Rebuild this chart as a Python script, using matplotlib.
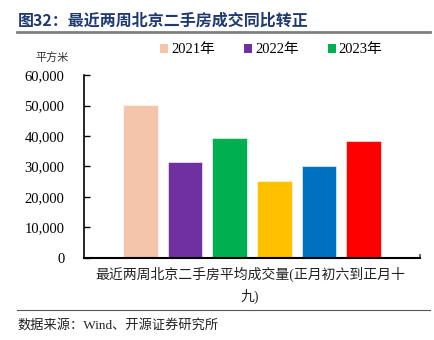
import matplotlib.pyplot as plt
from matplotlib.patches import Patch
from matplotlib.lines import Line2D
from matplotlib.ticker import FuncFormatter

plt.rcParams['font.family'] = ['Liberation Serif', 'Noto Sans CJK SC', 'DejaVu Sans']

# data
years = ['2021年', '2022年', '2023年']
values = [50100, 31600, 39250, 25100, 30200, 38250]
colors = ['#F5C5AB', '#7030A0', '#00B050', '#FFC000', '#0070C0', '#FF0000']
yticks = [0, 10000, 20000, 30000, 40000, 50000, 60000]
title = '图32：最近两周北京二手房成交同比转正'
xlabel = '最近两周北京二手房平均成交量(正月初六到正月十\n九)'
unit = '平方米'
source = '数据来源：Wind、开源证券研究所'

serif_cjk = ['Liberation Serif', 'Noto Sans CJK SC', 'DejaVu Sans']

fig = plt.figure(figsize=(4.35, 3.4), dpi=100)
ax = fig.add_axes([0.193, 0.242, 0.7725, 0.537])

xs = list(range(len(values)))
ax.bar(xs, values, width=0.78, color=colors, edgecolor='white', linewidth=0.4)
ax.set_xlim(-1.26, 6.26)
ax.set_ylim(0, 60000)
ax.set_yticks(yticks)
ax.yaxis.set_major_formatter(FuncFormatter(lambda v, p: f'{int(v):,}'))
ax.tick_params(axis='y', direction='in', length=4, width=1, labelsize=10.5, pad=14)
ax.set_xticks([6.26])
ax.set_xticklabels([''])
ax.tick_params(axis='x', direction='in', length=3, width=1.5, color='#707070')
for s in ['top', 'right']:
    ax.spines[s].set_visible(False)
ax.spines['left'].set_linewidth(1.2)
ax.spines['bottom'].set_linewidth(1.5)

fig.text(0.575, 0.215, xlabel, ha='center', va='top', fontsize=10,
         family=serif_cjk, color='#222222', linespacing=1.55)
fig.text(0.082, 0.83, unit, ha='left', va='center', fontsize=8,
         family=['Noto Sans CJK SC'], color='#333333')

handles = [Patch(facecolor=c, edgecolor='none') for c in colors[:3]]
fig.legend(handles, years, loc='center', bbox_to_anchor=(0.624, 0.853), ncol=3,
           frameon=False, handlelength=0.55, handleheight=0.55,
           handletextpad=0.2, columnspacing=2.0,
           prop={'family': serif_cjk, 'size': 10.5})

fig.text(0.04, 0.94, title, ha='left', va='center', fontsize=11.5, fontweight='bold',
         color='#1F3A70', family=['Noto Sans CJK SC', 'DejaVu Sans'])
fig.add_artist(Line2D([0.04, 0.988], [0.905, 0.905], color='#808080', linewidth=2))
fig.add_artist(Line2D([0.04, 0.988], [0.088, 0.088], color='#555555', linewidth=0.8))
fig.text(0.04, 0.044, source, ha='left', va='center', fontsize=9.5,
         family=serif_cjk, color='#222222')

fig.savefig('out.png', dpi=100)
